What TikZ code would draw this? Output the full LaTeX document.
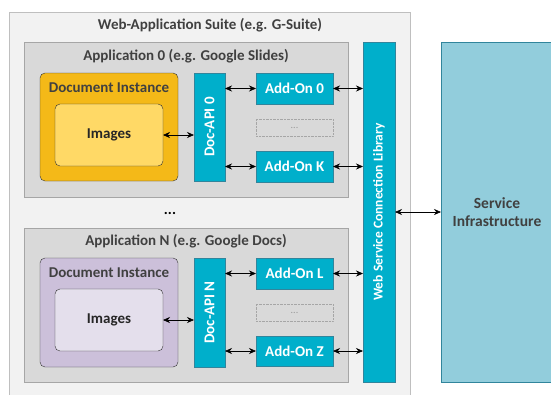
\documentclass[tikz,border=0pt]{standalone}
\usepackage{fontspec}
\setmainfont{Carlito}
\usetikzlibrary{positioning}
\usetikzlibrary{shapes,arrows,arrows.meta,backgrounds,fit,calc}
\definecolor{suitefill}{HTML}{F2F2F2}
\definecolor{suiteline}{HTML}{BFBFBF}
\definecolor{appfill}{HTML}{D9D9D9}
\definecolor{appline}{HTML}{A6A6A6}
\definecolor{docorange}{HTML}{F4B918}
\definecolor{imgyellow}{HTML}{FFD966}
\definecolor{docpurple}{HTML}{CCC0DA}
\definecolor{imgpurple}{HTML}{E4DFEC}
\definecolor{apiteal}{HTML}{00AFCB}
\definecolor{tealline}{HTML}{31859C}
\definecolor{infrablue}{HTML}{92CDDC}
\definecolor{textgray}{HTML}{404040}
\tikzset{
    %Define standard arrow tip
    >={Stealth[length=7pt,width=6pt]},
    % Define arrow style
    pil/.style={
           <->,
           semithick,}
}
\newcommand{\addonwidth}{77pt}
\newcommand{\addonheight}{31pt}

\begin{document}
\begin{tikzpicture}[x=1pt, y=-1pt, outer sep=0pt, font=\fontsize{15}{17}\selectfont\bfseries]
\tikzstyle{suite}=[draw=suiteline, fill=suitefill, rectangle, anchor=north west]
\tikzstyle{app}=[draw=appline, fill=appfill, rectangle, anchor=north west]
\tikzstyle{doc}=[draw=black!80, rectangle, rounded corners=5pt, minimum width=138pt, anchor=north west]
\tikzstyle{img}=[draw=black!80, rectangle, rounded corners=5pt, minimum width=108pt, minimum height=62pt, anchor=north west, text=black!85]
\tikzstyle{api}=[draw=tealline, fill=apiteal, rectangle, minimum width=31pt, text=white, anchor=north west]
\tikzstyle{addon}=[draw=tealline, fill=apiteal, rectangle, minimum width=\addonwidth, minimum height=\addonheight, text=white, anchor=north west]
\tikzstyle{dots}=[draw=gray!70, densely dotted, rectangle, minimum width=\addonwidth, minimum height=17pt, text=gray!80, anchor=north west, font=\fontsize{10}{11}\selectfont]
\tikzstyle{title}=[text=textgray]

\clip (0,0) rectangle (551,394);

\node[suite, minimum width=401pt, minimum height=420pt] (suite) at (9,12) {};
\node[title] (suitetitle) at (210,25) {Web-Application Suite (e.g. G-Suite)};

% Application 0
\node[app, minimum width=324pt, minimum height=155pt] (app0) at (24,42) {};
\node[title] (app0title) at (186,56) {Application 0 (e.g. Google Slides)};
\node[doc, fill=docorange, minimum height=108pt] (doc0) at (40,73) {};
\node[title] (doc0title) at (109,88) {Document Instance};
\node[img, fill=imgyellow] (img0) at (55,104) {Images};
\node[api, minimum height=108pt, right=16pt of doc0.north east, anchor=north west] (api0) {\rotatebox{90}{Doc-API 0}};
\node[addon, right=31pt of api0.north east, anchor=north west] (add0) {Add-On 0};
\node[addon, below=47pt of add0.south west, anchor=north west] (addK) {Add-On K};
\node[dots, below=15pt of add0.south west, anchor=north west] (dots0) {...};

% Application N
\node (between) at (170,213) {...};
\node[app, minimum width=324pt, minimum height=154pt] (appN) at (24,228) {};
\node[title] (appNtitle) at (186,241) {Application N (e.g. Google Docs)};
\node[doc, fill=docpurple, minimum height=109pt] (docN) at (40,258) {};
\node[title] (docNtitle) at (109,273) {Document Instance};
\node[img, fill=imgpurple] (imgN) at (55,289) {Images};
\node[api, minimum height=109pt, right=16pt of docN.north east, anchor=north west] (apiN) {\rotatebox{90}{Doc-API N}};
\node[addon, right=31pt of apiN.north east, anchor=north west] (addL) {Add-On L};
\node[addon, minimum height=30pt, below=47pt of addL.south west, anchor=north west] (addZ) {Add-On Z};
\node[dots, below=15pt of addL.south west, anchor=north west] (dotsN) {...};

% library and infrastructure
\node[api, minimum width=32pt, minimum height=340pt, font=\fontsize{13.5}{15}\selectfont\bfseries] (wscl) at (363,42) {\rotatebox{90}{Web Service Connection Library}};
\node[draw=tealline, fill=infrablue, rectangle, minimum width=112pt, minimum height=340pt, anchor=north west, text=textgray, align=center, font=\fontsize{15.5}{18}\selectfont\bfseries] (infra) at (441,42) {Service\\Infrastructure};

\draw[pil] (img0.east) -- (img0.east -| api0.west);
\draw[pil] (add0.west -| api0.east) -- (add0.west);
\draw[pil] (addK.west -| api0.east) -- (addK.west);
\draw[pil] (add0.east) -- (add0.east -| wscl.west);
\draw[pil] (addK.east) -- (addK.east -| wscl.west);

\draw[pil] (imgN.east) -- (imgN.east -| apiN.west);
\draw[pil] (addL.west -| apiN.east) -- (addL.west);
\draw[pil] (addZ.west -| apiN.east) -- (addZ.west);
\draw[pil] (addL.east) -- (addL.east -| wscl.west);
\draw[pil] (addZ.east) -- (addZ.east -| wscl.west);

\draw[pil] (wscl.east) -- (infra.west);

\end{tikzpicture}
\end{document}
